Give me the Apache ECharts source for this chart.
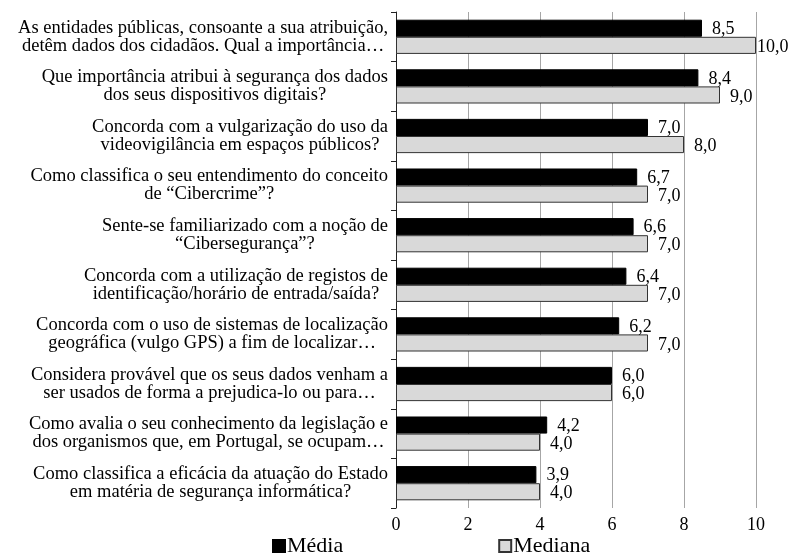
<!DOCTYPE html>
<html>
<head>
<meta charset="utf-8">
<script src="https://cdn.jsdelivr.net/npm/echarts@6/dist/echarts.min.js"></script>
<style>
html,body{margin:0;padding:0;background:#fff;}
#chart{width:789px;height:556px;}
</style>
</head>
<body>
<div id="chart"></div>
<script>
const categories = [
  "As entidades públicas, consoante a sua atribuição,\ndetêm dados dos cidadãos. Qual a importância…",
  "Que importância atribui à segurança dos dados\ndos seus dispositivos digitais?",
  "Concorda com a vulgarização do uso da\nvideovigilância em espaços públicos?",
  "Como classifica o seu entendimento do conceito\nde “Cibercrime”?",
  "Sente-se familiarizado com a noção de\n“Cibersegurança”?",
  "Concorda com a utilização de registos de\nidentificação/horário de entrada/saída?",
  "Concorda com o uso de sistemas de localização\ngeográfica (vulgo GPS) a fim de localizar…",
  "Considera provável que os seus dados venham a\nser usados de forma a prejudica-lo ou para…",
  "Como avalia o seu conhecimento da legislação e\ndos organismos que, em Portugal, se ocupam…",
  "Como classifica a eficácia da atuação do Estado\nem matéria de segurança informática?"
];
const mediaValues = [8.5, 8.4, 7.0, 6.7, 6.6, 6.4, 6.2, 6.0, 4.2, 3.9];
const medianaValues = [10.0, 9.0, 8.0, 7.0, 7.0, 7.0, 7.0, 6.0, 4.0, 4.0];
const seriesNames = ["Média", "Mediana"];
const xTicks = [0, 2, 4, 6, 8, 10];

const FONT = "'Liberation Serif', 'Times New Roman', serif";
const fmt = p => p.value.toFixed(1).replace('.', ',');

const chart = echarts.init(document.getElementById('chart'), null, {renderer: 'canvas'});
chart.setOption({
  animation: false,
  backgroundColor: '#ffffff',
  textStyle: {fontFamily: FONT},
  grid: {left: 396, right: 33, top: 12, bottom: 48, containLabel: false},
  legend: {
    data: seriesNames,
    left: 272,
    top: 534,
    padding: 0,
    itemWidth: 12,
    itemHeight: 12,
    itemGap: 155,
    textStyle: {fontFamily: FONT, fontSize: 22, lineHeight: 24, color: '#000', padding: [0, 0, 0, -3]},
    icon: 'rect'
  },
  xAxis: {
    type: 'value',
    min: xTicks[0],
    max: xTicks[xTicks.length - 1],
    interval: 2,
    axisLine: {show: false},
    axisTick: {show: false},
    axisLabel: {fontFamily: FONT, fontSize: 18, color: '#000', margin: 8},
    splitLine: {show: true, lineStyle: {color: '#a6a6a6', width: 1}}
  },
  yAxis: {
    type: 'category',
    inverse: true,
    data: categories,
    axisLine: {show: true, lineStyle: {color: '#222', width: 1}},
    axisTick: {show: true, length: 5, lineStyle: {color: '#222'}},
    axisLabel: {
      margin: 8,
      fontFamily: FONT,
      fontSize: 18.5,
      color: '#000',
      lineHeight: 18,
      formatter: v => v.split('\n').map(l => '{c|' + l + '}').join('\n'),
      rich: {c: {align: 'center', fontFamily: FONT, fontSize: 18.5, lineHeight: 18, color: '#000'}}
    }
  },
  series: [
    {
      name: seriesNames[0],
      type: 'bar',
      data: mediaValues,
      barGap: '0%',
      barCategoryGap: '31%',
      itemStyle: {color: '#000', borderColor: '#000', borderWidth: 1},
      label: {show: true, position: 'right', distance: 10, formatter: fmt,
        fontFamily: FONT, fontSize: 18, color: '#000', offset: [0, 1]}
    },
    {
      name: seriesNames[1],
      type: 'bar',
      data: medianaValues.map(v => v >= 10 ? {value: v, label: {distance: 1}} : v),
      barGap: '0%',
      barCategoryGap: '31%',
      itemStyle: {color: '#d9d9d9', borderColor: '#333', borderWidth: 1},
      label: {show: true, position: 'right', distance: 10, formatter: fmt,
        fontFamily: FONT, fontSize: 18, color: '#000', offset: [0, 2]}
    }
  ]
});
</script>
</body>
</html>
